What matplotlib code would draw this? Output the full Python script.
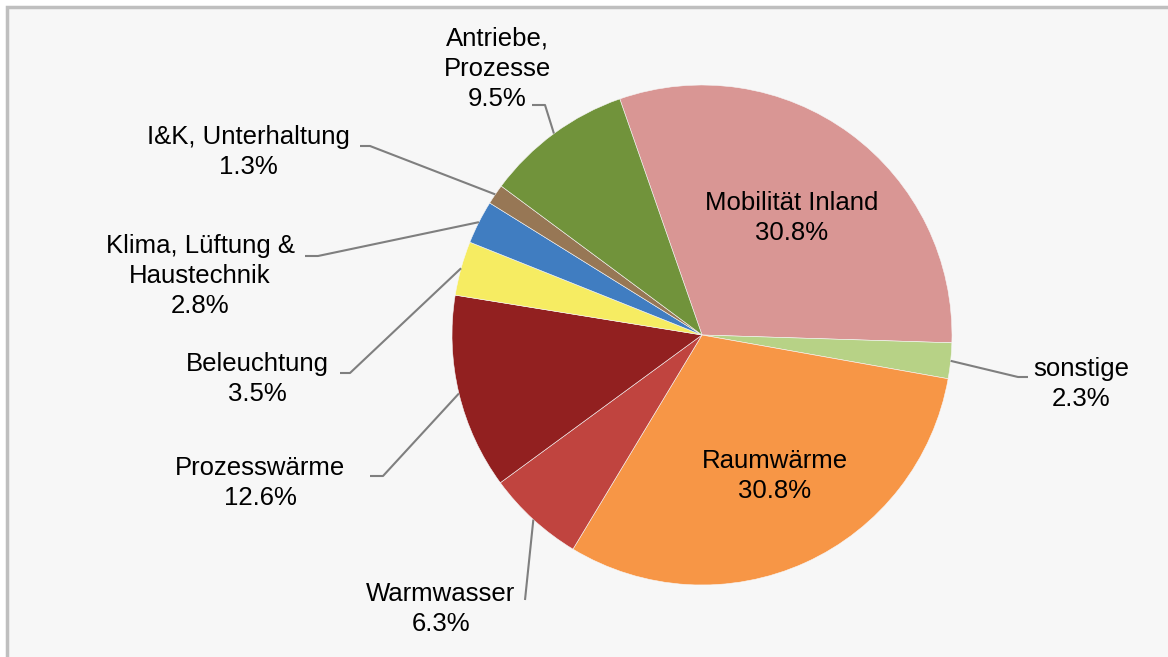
import numpy as np
import matplotlib.pyplot as plt
from matplotlib.patches import Rectangle

# slices in clockwise order, starting with Mobilität Inland
labels = ["Mobilität Inland", "sonstige", "Raumwärme", "Warmwasser", "Prozesswärme",
          "Beleuchtung", "Klima, Lüftung &\nHaustechnik", "I&K, Unterhaltung", "Antriebe,\nProzesse"]
values = [30.8, 2.3, 30.8, 6.3, 12.6, 3.5, 2.8, 1.3, 9.5]
colors = ["#D99694", "#B7D286", "#F79646", "#C0443F", "#922020",
          "#F6EC62", "#407DC1", "#977755", "#71933B"]

W, H = 1168, 657
fig = plt.figure(figsize=(W / 100, H / 100), dpi=100)
fig.patch.set_facecolor("white")
ax = fig.add_axes([0, 0, 1, 1])

# chart area background + frame (only left/top visible)
ax.add_patch(Rectangle((6.5, -10), W, H - 6.5 + 10, facecolor="#F7F7F7",
                       edgecolor="#BFBFBF", linewidth=2.5, zorder=0))

cx, cy, r = 702, H - 335, 250
wedges, _ = ax.pie(values, colors=colors, startangle=109.2, counterclock=False,
                   center=(cx, cy), radius=r, frame=True,
                   wedgeprops=dict(edgecolor="#F7F7F7", linewidth=0.4))
ax.set_xlim(0, W)
ax.set_ylim(0, H)
ax.set_aspect("equal")
ax.set_axis_off()

fs = 18.5
font = dict(family="Liberation Sans", fontsize=fs, color="black")

# label placement (image px): text centre, elbow point, end of horizontal tick
layout = {
    0: dict(text=(792, 218)),
    1: dict(text=(1081, 384), elbow=(1018, 377), end=(1028, 377), frac=0.5),
    2: dict(text=(775, 476)),
    3: dict(text=(441, 609), elbow=(525, 600), end=None, frac=0.5),
    4: dict(text=(260, 483), elbow=(383, 476), end=(370, 476), frac=0.5),
    5: dict(text=(257, 379), elbow=(350, 373), end=(340, 373), frac=0.5),
    6: dict(text=(200, 276), elbow=(318, 256), end=(305, 256), frac=0.5),
    7: dict(text=(248, 152), elbow=(370, 146), end=(360, 146), frac=0.5),
    8: dict(text=(497, 69), elbow=(545, 105), end=(532, 105), frac=0.5),
}

for i, w in enumerate(wedges):
    lab = "%s\n%.1f%%" % (labels[i], values[i])
    lay = layout[i]
    tx, ty = lay["text"]
    ax.text(tx, H - ty, lab, ha="center", va="center", linespacing=1.32,
            zorder=5, **font)
    if "elbow" in lay:
        ang = np.deg2rad(w.theta1 + (w.theta2 - w.theta1) * lay["frac"])
        px = cx + r * np.cos(ang)
        py = cy + r * np.sin(ang)
        ex, ey = lay["elbow"]
        xs = [px, ex]
        ys = [py, H - ey]
        if lay["end"] is not None:
            xs.append(lay["end"][0])
            ys.append(H - lay["end"][1])
        ax.plot(xs, ys, color="#7F7F7F", linewidth=1.5, zorder=4,
                solid_capstyle="butt")

fig.savefig("out.png", dpi=100, facecolor=fig.get_facecolor())
